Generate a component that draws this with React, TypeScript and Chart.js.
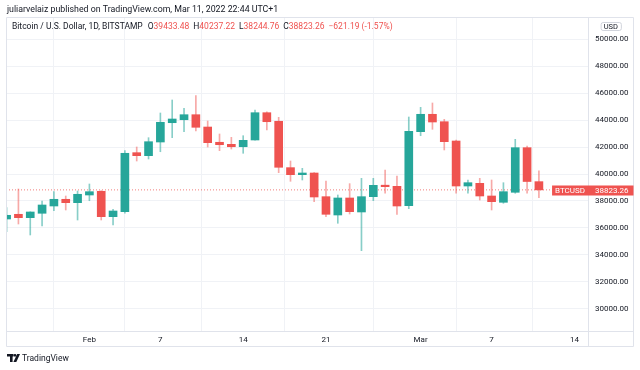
import React, { useEffect, useRef } from 'react';
import { Chart, registerables } from 'chart.js';

Chart.register(...registerables);

// ---- data (BTC/USD daily, Bitstamp) ----
const dates = [
  'Jan 25', 'Jan 26', 'Jan 27', 'Jan 28', 'Jan 29', 'Jan 30', 'Jan 31',
  'Feb 1', 'Feb 2', 'Feb 3', 'Feb 4', 'Feb 5', 'Feb 6', 'Feb 7', 'Feb 8', 'Feb 9', 'Feb 10',
  'Feb 11', 'Feb 12', 'Feb 13', 'Feb 14', 'Feb 15', 'Feb 16', 'Feb 17', 'Feb 18', 'Feb 19', 'Feb 20',
  'Feb 21', 'Feb 22', 'Feb 23', 'Feb 24', 'Feb 25', 'Feb 26', 'Feb 27', 'Feb 28',
  'Mar 1', 'Mar 2', 'Mar 3', 'Mar 4', 'Mar 5', 'Mar 6', 'Mar 7', 'Mar 8', 'Mar 9', 'Mar 10', 'Mar 11',
];
const opens = [
  36667, 37015, 36763, 37090, 37630, 38126, 37875,
  38445, 38720, 36837, 37210, 41580, 41358, 42370, 43800, 44022, 44393,
  43480, 42350, 42200, 42022, 42519, 44541, 43904, 40471, 39950, 40074,
  38320, 36963, 38223, 37186, 38320, 39160, 39086, 37652,
  43134, 44423, 43874, 42444, 39111, 39310, 38371, 37904, 38645, 41950, 39433.48,
];
const highs = [
  37504, 38889, 37200, 38000, 38690, 38370, 38740,
  39260, 38764, 37386, 41727, 42000, 42690, 44519, 45482, 44867, 45800,
  43926, 42963, 42718, 42837, 44741, 44600, 44200, 40963, 40422, 40100,
  39482, 38445, 39284, 39680, 39680, 40296, 39852, 44222,
  44941, 45260, 44052, 42519, 39556, 39680, 39556, 39356, 42570, 42074, 40237.22,
];
const lows = [
  35727, 36297, 35482, 36148, 37282, 37334, 36593,
  38020, 36593, 36222, 37090, 40963, 41111, 41650, 42690, 43134, 43185,
  42000, 41726, 41852, 41534, 42500, 43260, 40097, 39460, 39556, 37949,
  36837, 36350, 37037, 34320, 38023, 38571, 37015, 37430,
  42837, 43311, 41780, 38571, 38571, 38074, 37334, 37830, 38571, 38571, 38244.76,
];
const closes = [
  36941, 36763, 37186, 37704, 38126, 37875, 38497,
  38690, 36837, 37260, 41534, 41358, 42393, 43830, 44074, 44393, 43460,
  42320, 42170, 42022, 42496, 44541, 43874, 40497, 39950, 40074, 38297,
  37015, 38223, 37208, 38320, 39160, 39060, 37630, 43163,
  44423, 43852, 42393, 39111, 39356, 38371, 37949, 38690, 41950, 39444.45, 38823.26,
];

const yTicks = [30000, 32000, 34000, 36000, 38000, 40000, 42000, 44000, 46000, 48000, 50000];
const xTickDays = [7, 13, 20, 27, 35, 41, 48];
const xTickLabels = ['Feb', '7', '14', '21', 'Mar', '7', '14'];

const headerText = 'juliarvelaiz published on TradingView.com, Mar 11, 2022 22:44 UTC+1';
const symbolTitle = 'Bitcoin / U.S. Dollar, 1D, BITSTAMP';
const symbolTag = 'BTCUSD';
const currency = 'USD';
const brand = 'TradingView';

// ---- style ----
const UP = '#26a69a';
const DOWN = '#ef5350';
const UP_WICK = 'rgba(38,166,154,0.55)';
const DOWN_WICK = 'rgba(239,83,80,0.5)';
const TEXT = '#131722';
const FONT = 'Roboto, "Liberation Sans", sans-serif';
const PANE_BORDER = '#e0e3eb';

const fmt = (v: number) => v.toFixed(2);
const minus = (s: string) => s.replace('-', '\u2212');

const overlay = {
  id: 'overlay',
  beforeDraw(chart: any) {
    const { ctx, width, height } = chart;
    ctx.save();
    ctx.fillStyle = '#ffffff';
    ctx.fillRect(0, 0, width, height);
    ctx.restore();
  },
  afterDraw(chart: any) {
    const { ctx, chartArea: a, scales } = chart;
    const y = scales.y;
    const n = closes.length;
    const last = closes[n - 1];
    const prev = closes[n - 2];
    ctx.save();

    // pane borders
    const L = a.left + 0.5, R = 633.5, T = a.top + 0.5, B = 346.5;
    ctx.strokeStyle = PANE_BORDER;
    ctx.lineWidth = 1;
    ctx.beginPath();
    ctx.moveTo(L, T); ctx.lineTo(R, T);
    ctx.moveTo(L, T); ctx.lineTo(L, B);
    ctx.moveTo(R, T); ctx.lineTo(R, B);
    ctx.moveTo(L, B); ctx.lineTo(R, B);
    ctx.moveTo(L, a.bottom + 0.5); ctx.lineTo(R, a.bottom + 0.5);
    ctx.moveTo(a.right + 0.5, T); ctx.lineTo(a.right + 0.5, B);
    ctx.stroke();

    // header
    ctx.textBaseline = 'middle';
    ctx.textAlign = 'left';
    ctx.fillStyle = TEXT;
    ctx.font = `8.8px ${FONT}`;
    ctx.fillText(headerText, 7, 9.5);

    // legend
    const chg = last - prev;
    const pct = (chg / prev) * 100;
    const runs: [string, string, number][] = [
      [symbolTitle, TEXT, 5],
      ['O', TEXT, 0], [fmt(opens[n - 1]), DOWN, 4],
      ['H', TEXT, 0], [fmt(highs[n - 1]), DOWN, 4],
      ['L', TEXT, 0], [fmt(lows[n - 1]), DOWN, 4],
      ['C', TEXT, 0], [fmt(last), DOWN, 4],
      [minus(`${fmt(chg)} (${fmt(pct)}%)`), DOWN, 0],
    ];
    let x = 12;
    ctx.font = `8.5px ${FONT}`;
    for (const [t, c, gap] of runs) {
      ctx.fillStyle = c;
      ctx.fillText(t, x, 27);
      x += ctx.measureText(t).width + gap;
    }

    // currency badge
    ctx.font = `7.5px ${FONT}`;
    const cw = ctx.measureText(currency).width;
    const cx = (a.right + R) / 2;
    ctx.strokeStyle = '#d1d4dc';
    ctx.beginPath();
    (ctx as any).roundRect(cx - cw / 2 - 3 + 0.5, 22.5, cw + 6, 8, 2);
    ctx.stroke();
    ctx.fillStyle = TEXT;
    ctx.textAlign = 'center';
    ctx.fillText(currency, cx, 26.8);

    // last price labels
    const py = Math.round(y.getPixelForValue(last));
    ctx.fillStyle = DOWN;
    ctx.fillRect(a.right, py - 4.5, R - a.right, 10);
    ctx.font = `8px ${FONT}`;
    const tw = ctx.measureText(symbolTag).width;
    ctx.fillRect(a.right - tw - 6, py - 4.5, tw + 6, 10);
    ctx.fillStyle = '#ffffff';
    ctx.textAlign = 'left';
    ctx.fillText(fmt(last), a.right + 7, py + 0.8);
    ctx.fillText(symbolTag, a.right - tw - 3, py + 0.8);

    // brand logo
    ctx.fillStyle = TEXT;
    ctx.fillRect(7, 354, 6.5, 2.5);
    ctx.fillRect(10, 354, 2.6, 8);
    ctx.beginPath();
    ctx.arc(15, 355.3, 1.4, 0, Math.PI * 2);
    ctx.fill();
    ctx.beginPath();
    ctx.moveTo(17.2, 354); ctx.lineTo(20, 354); ctx.lineTo(16.3, 362); ctx.lineTo(13.4, 362);
    ctx.closePath();
    ctx.fill();
    ctx.font = `8.5px ${FONT}`;
    ctx.fillText(brand, 22, 358.5);

    ctx.restore();
  },
};

export default function App() {
  const ref = useRef<HTMLCanvasElement | null>(null);

  useEffect(() => {
    const canvas = ref.current;
    if (!canvas) return;
    const n = closes.length;
    const idx = dates.map((_, i) => i);
    const colors = idx.map((i) => (closes[i] >= opens[i] ? UP : DOWN));
    const wickColors = idx.map((i) => (closes[i] >= opens[i] ? UP_WICK : DOWN_WICK));
    const xMin = -0.05;
    const xMax = 49.15;

    const chart = new Chart(canvas, {
      type: 'bar',
      data: {
        datasets: [
          {
            label: 'body',
            data: idx.map((i) => ({ x: i, y: [opens[i], closes[i]] })) as any,
            backgroundColor: colors,
            borderWidth: 0,
            barThickness: 8,
            minBarLength: 1.5,
            grouped: false,
            clip: 0 as any,
            order: 1,
          } as any,
          {
            label: 'wick',
            data: idx.map((i) => ({ x: i, y: [lows[i], highs[i]] })) as any,
            backgroundColor: wickColors,
            borderWidth: 0,
            barThickness: 1,
            grouped: false,
            clip: 0 as any,
            order: 2,
          } as any,
          {
            type: 'line',
            label: 'last',
            data: [
              { x: xMin, y: closes[n - 1] },
              { x: xMax, y: closes[n - 1] },
            ],
            borderColor: 'rgba(239,83,80,0.75)',
            borderWidth: 1,
            borderDash: [1, 2],
            pointRadius: 0,
            clip: 0 as any,
            order: 3,
          } as any,
        ],
      },
      options: {
        responsive: false,
        animation: false,
        devicePixelRatio: 1,
        layout: { padding: { left: 6, right: 7, top: 17, bottom: 24 } },
        plugins: { legend: { display: false }, tooltip: { enabled: false } },
        scales: {
          x: {
            type: 'linear',
            min: xMin,
            max: xMax,
            offset: false,
            grid: { color: '#f0f2f6', drawTicks: false },
            border: { display: false },
            afterBuildTicks: (s: any) => {
              s.ticks = xTickDays.map((v) => ({ value: v }));
            },
            afterFit: (s: any) => {
              s.height = 15;
            },
            ticks: {
              autoSkip: false,
              maxRotation: 0,
              padding: 4,
              color: TEXT,
              font: { family: FONT, size: 8 },
              callback: (v: any) => {
                const k = xTickDays.indexOf(Number(v));
                return k >= 0 ? xTickLabels[k] : '';
              },
            },
          },
          y: {
            type: 'linear',
            position: 'right',
            min: 28370,
            max: 51630,
            grid: { color: '#f0f2f6', drawTicks: false },
            border: { display: false },
            afterBuildTicks: (s: any) => {
              s.ticks = yTicks.map((v) => ({ value: v }));
            },
            afterFit: (s: any) => {
              s.width = 45;
            },
            ticks: {
              padding: 7,
              color: TEXT,
              font: { family: FONT, size: 8 },
              callback: (v: any) => Number(v).toFixed(2),
            },
          },
        },
      },
      plugins: [overlay],
    } as any);

    return () => chart.destroy();
  }, []);

  return (
    <div style={{ position: 'fixed', left: 0, top: 0, width: 640, height: 370, background: '#fff' }}>
      <canvas ref={ref} width={640} height={370} style={{ width: 640, height: 370, display: 'block' }} />
    </div>
  );
}
